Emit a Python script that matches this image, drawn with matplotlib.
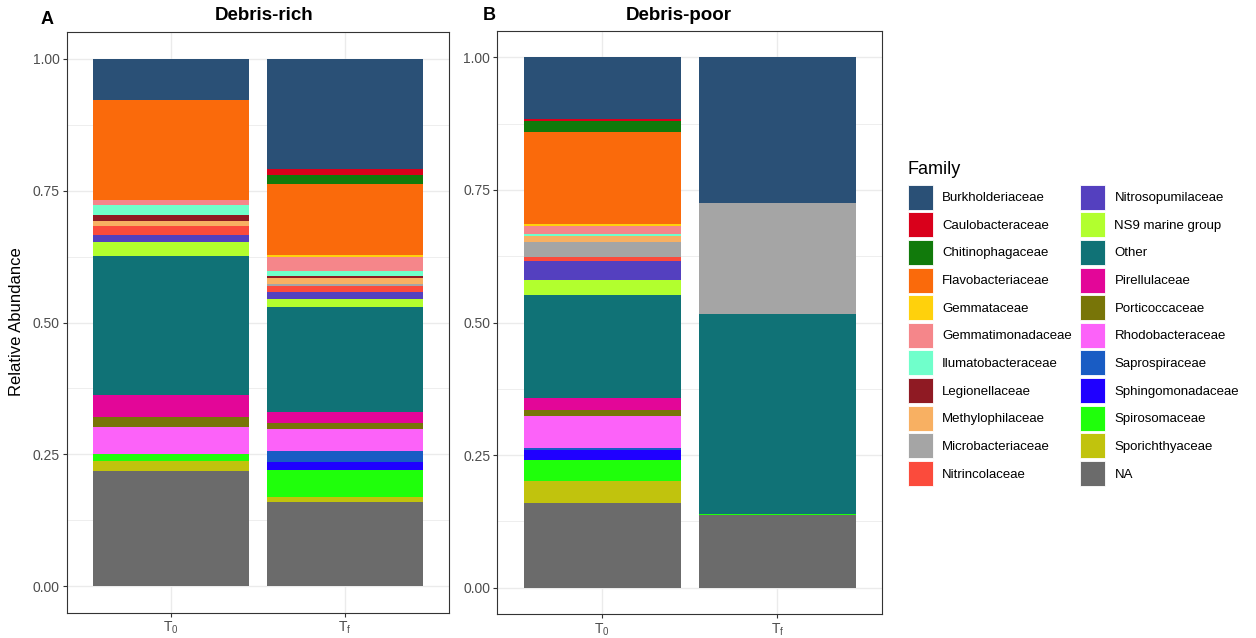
import matplotlib
matplotlib.use("Agg")
import matplotlib.pyplot as plt
from matplotlib.patches import Patch
from matplotlib.ticker import MultipleLocator

plt.rcParams["font.family"] = ["Liberation Sans", "DejaVu Sans"]
plt.rcParams["mathtext.default"] = "regular"

# families, top of the stack first
families = ["Burkholderiaceae", "Caulobacteraceae", "Chitinophagaceae",
            "Flavobacteriaceae", "Gemmataceae", "Gemmatimonadaceae",
            "Ilumatobacteraceae", "Legionellaceae", "Methylophilaceae",
            "Microbacteriaceae", "Nitrincolaceae", "Nitrosopumilaceae",
            "NS9 marine group", "Other", "Pirellulaceae", "Porticoccaceae",
            "Rhodobacteraceae", "Saprospiraceae", "Sphingomonadaceae",
            "Spirosomaceae", "Sporichthyaceae", "NA"]

colors = ["#2A5076", "#D9001B", "#117A0B", "#FA6A0B", "#FFD10C", "#F5868A",
          "#70FFCB", "#8F1A23", "#F8B062", "#A5A5A5", "#FB4B3C", "#5440BF",
          "#B2FF2E", "#107276", "#E30698", "#787508", "#FC62F9", "#195CC4",
          "#1F00FF", "#1FFF0B", "#C1C30D", "#6B6B6B"]

# relative abundance per sample, same order as families
rich_t0 = [0.0775, 0, 0, 0.190, 0, 0.009, 0.019, 0.012, 0.010, 0, 0.017, 0.013,
           0.026, 0.263, 0.043, 0.018, 0.052, 0, 0, 0.013, 0.019, 0.218]
rich_tf = [0.209, 0.010, 0.017, 0.135, 0.004, 0.026, 0.010, 0.003, 0.012, 0.004,
           0.011, 0.014, 0.014, 0.200, 0.021, 0.011, 0.042, 0.020, 0.016, 0.051,
           0.009, 0.160]
poor_t0 = [0.117, 0.004, 0.019, 0.175, 0.004, 0.014, 0.004, 0, 0.0105, 0.029,
           0.008, 0.0345, 0.029, 0.194, 0.0225, 0.011, 0.061, 0.0045, 0.0175,
           0.040, 0.041, 0.1605]
poor_tf = [0.274, 0, 0, 0, 0, 0, 0, 0, 0, 0.2105, 0, 0, 0, 0.377, 0, 0, 0, 0, 0,
           0.001, 0, 0.1375]

time_labels = ["T$_0$", "T$_f$"]
panels = [("A", "Debris-rich", [rich_t0, rich_tf]),
          ("B", "Debris-poor", [poor_t0, poor_tf])]

W, H = 1256, 638
fig = plt.figure(figsize=(W / 100, H / 100), dpi=100)

# axes boxes in pixels: left, top, right, bottom
boxes = [(66.7, 32.3, 449.3, 612.7), (497.3, 30.7, 882.3, 614.3)]
letter_pos = [(47, 20), (489, 15)]
title_pos = [(264, 16), (679, 15)]

for (letter, title, samples), box, lp, tp in zip(panels, boxes, letter_pos, title_pos):
    l, t, r, b = box
    ax = fig.add_axes([l / W, 1 - b / H, (r - l) / W, (b - t) / H])
    for i, vals in enumerate(samples):
        bottom = 0.0
        # stack from the bottom (NA) up to Burkholderiaceae
        for fam_idx in range(len(families) - 1, -1, -1):
            v = vals[fam_idx]
            if v <= 0:
                continue
            ax.bar(i + 1, v, bottom=bottom, width=0.9, color=colors[fam_idx],
                   linewidth=0, zorder=3)
            bottom += v
    ax.set_xlim(0.4, 2.6)
    ax.set_ylim(-0.05, 1.05)
    ax.set_xticks([1, 2])
    ax.set_xticklabels(time_labels)
    ax.yaxis.set_major_locator(MultipleLocator(0.25))
    ax.yaxis.set_minor_locator(MultipleLocator(0.125))
    ax.yaxis.set_major_formatter(matplotlib.ticker.FormatStrFormatter("%.2f"))
    ax.grid(True, which="major", color="#EBEBEB", linewidth=1.0, zorder=0)
    ax.grid(True, which="minor", axis="y", color="#EBEBEB", linewidth=0.6, zorder=0)
    ax.set_axisbelow(True)
    ax.tick_params(axis="both", which="major", length=3, width=0.8,
                   color="#333333", labelsize=10, labelcolor="#4D4D4D", pad=2)
    ax.tick_params(axis="y", which="minor", length=0)
    for s in ax.spines.values():
        s.set_color("#333333")
        s.set_linewidth(0.8)
    fig.text(tp[0] / W, 1 - tp[1] / H, title, fontsize=13.5, fontweight="bold",
             ha="center", va="center")
    fig.text(lp[0] / W, 1 - lp[1] / H, letter, fontsize=13, fontweight="bold",
             ha="center", va="center")

fig.text(17 / W, 1 - 322 / H, "Relative Abundance", rotation=90,
         ha="center", va="center", fontsize=12)

handles = [Patch(facecolor=c, edgecolor="white", linewidth=0.6) for c in colors]
leg = fig.legend(handles, families, ncol=2, loc="upper left",
                 bbox_to_anchor=(901 / W, 1 - 154 / H), frameon=False,
                 title="Family", title_fontsize=13, fontsize=9.5,
                 handlelength=1.9, handleheight=2.54, labelspacing=0.2,
                 handletextpad=0.72, columnspacing=0.6, borderpad=0,
                 alignment="left")
leg._legend_box.sep = 5

fig.savefig("out.png", dpi=100)
